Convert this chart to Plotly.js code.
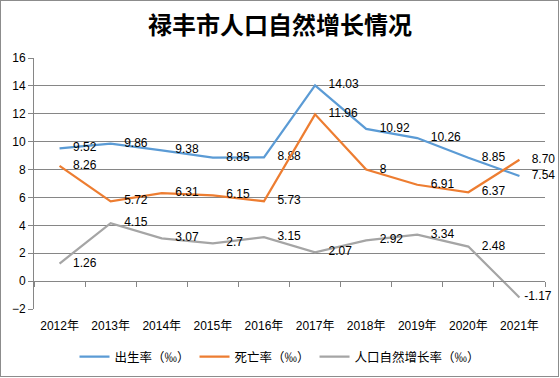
<!DOCTYPE html>
<html><head><meta charset="utf-8">
<script src="https://cdn.plot.ly/plotly-3.0.1.min.js"></script>
<style>
body{margin:0;background:#fff;}
#wrap{position:relative;width:560px;height:378px;}
#plot{width:560px;height:378px;}
#frame{position:absolute;left:0;top:0;width:557px;height:375px;border:1px solid #8c8c8c;pointer-events:none;}
</style></head>
<body><div id="wrap"><div id="plot"></div><div id="frame"></div></div>
<script>
const years = ["2012年","2013年","2014年","2015年","2016年","2017年","2018年","2019年","2020年","2021年"];
const birthRate = [9.52, 9.86, 9.38, 8.85, 8.88, 14.03, 10.92, 10.26, 8.85, 7.54];
const birthLabels = ["9.52","9.86","9.38","8.85","8.88","14.03","10.92","10.26","8.85","7.54"];
const deathRate = [8.26, 5.72, 6.31, 6.15, 5.73, 11.96, 8, 6.91, 6.37, 8.70];
const deathLabels = ["8.26","5.72","6.31","6.15","5.73","11.96","8","6.91","6.37","8.70"];
const growthRate = [1.26, 4.15, 3.07, 2.7, 3.15, 2.07, 2.92, 3.34, 2.48, -1.17];
const growthLabels = ["1.26","4.15","3.07","2.7","3.15","2.07","2.92","3.34","2.48","-1.17"];
const seriesNames = ["出生率（‰）","死亡率（‰）","人口自然增长率（‰）"];
const colors = ["#5B9BD5","#ED7D31","#A5A5A5"];

const numFont = {family:"Liberation Sans, Arial, sans-serif", size:12, color:"#000"};
function mk(y, labels, name, color, sizes){
  return {x:years, y:y, name:name, type:"scatter", mode:"lines+markers+text",
    text:labels, textposition:"middle right", textfont:numFont,
    marker:{size:sizes, color:"rgba(0,0,0,0)", opacity:0, line:{width:0, color:"rgba(0,0,0,0)"}},
    line:{color:color, width:2.25}, cliponaxis:false, hoverinfo:"x+y"};
}
const data = [
  mk(birthRate, birthLabels, seriesNames[0], colors[0], [20,20,20,20,20,20,20,20,20,18]),
  mk(deathRate, deathLabels, seriesNames[1], colors[1], [20,20,20,20,20,20,20,20,20,18]),
  mk(growthRate, growthLabels, seriesNames[2], colors[2], [20,20,20,20,20,20,20,20,20,6]),
  {x:years, y:growthRate, xaxis:"x2", type:"scatter", mode:"lines", line:{width:0}, opacity:0, showlegend:false, hoverinfo:"skip"}
];
const layout = {
  width:560, height:378,
  margin:{l:34, r:15, t:58, b:69},
  paper_bgcolor:"#fff", plot_bgcolor:"#fff",
  title:{text:"<b>禄丰市人口自然增长情况</b>", x:0.5, xanchor:"center", y:1-26/378, yanchor:"middle",
    font:{family:"Noto Sans CJK SC", size:24, color:"#000"}},
  xaxis:{type:"category", categoryarray:years, categoryorder:"array", range:[-0.5,9.5],
    showline:false, ticks:"", showgrid:false, zeroline:false, ticklabelstandoff:8,
    tickfont:{family:"Liberation Sans, Noto Sans CJK SC", size:12, color:"#000"}},
  xaxis2:{type:"category", categoryarray:years, categoryorder:"array", range:[-0.5,9.5],
    overlaying:"x", anchor:"free", position:2/18, showline:true, linecolor:"#868686", linewidth:1,
    ticks:"outside", ticklen:5, tickcolor:"#868686", tickson:"boundaries",
    showticklabels:false, showgrid:false, zeroline:false},
  yaxis:{range:[-2,16], dtick:2, tick0:0, showline:true, linecolor:"#868686", linewidth:1,
    ticks:"outside", ticklen:5, tickcolor:"#868686", gridcolor:"#868686", gridwidth:1,
    zeroline:false, tickfont:{family:"Liberation Sans, Arial", size:12, color:"#000"}},
  legend:{orientation:"h", x:0.5, xanchor:"center", xref:"container", yref:"container", y:1-357/378, yanchor:"middle",
    font:{family:"Noto Sans CJK SC", size:12.5, color:"#000"}, itemwidth:30},
  showlegend:true
};
Plotly.newPlot("plot", data, layout, {displayModeBar:false, staticPlot:true});
</script></body></html>
